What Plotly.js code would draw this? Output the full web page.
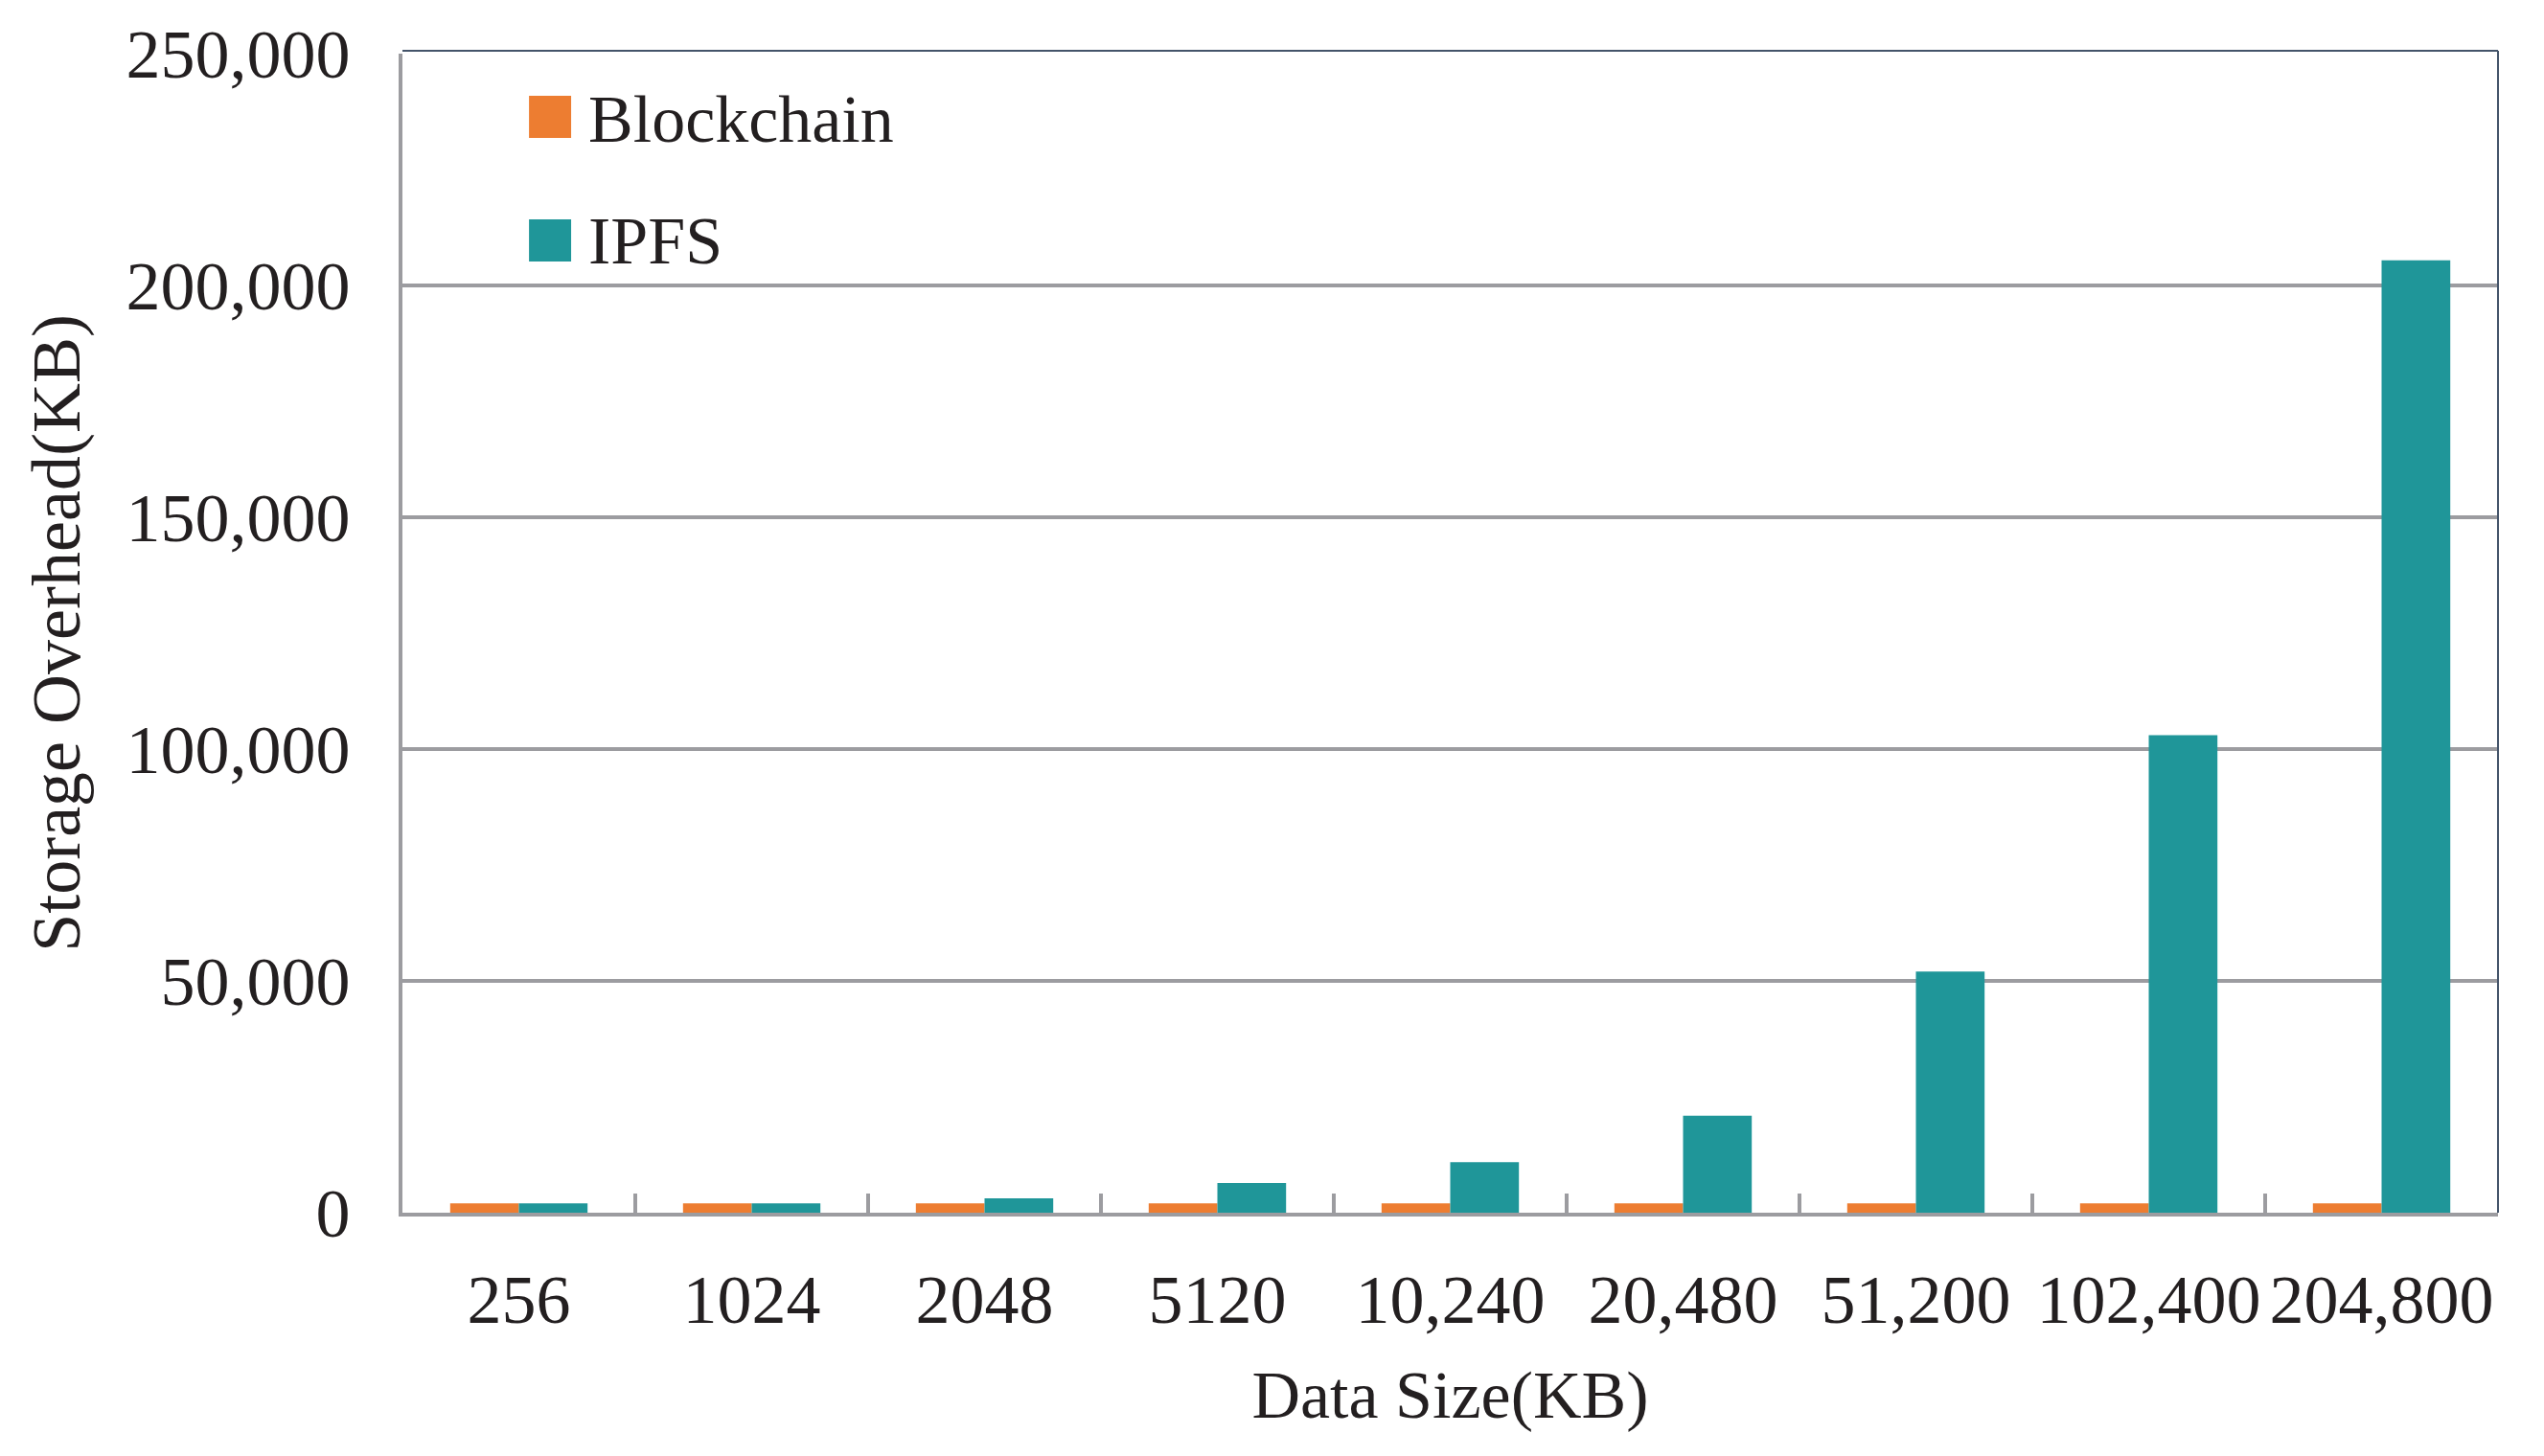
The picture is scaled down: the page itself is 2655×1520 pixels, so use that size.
<!DOCTYPE html>
<html>
<head>
<meta charset="utf-8">
<script src="https://cdn.plot.ly/plotly-3.0.1.min.js"></script>
<style>
html, body { margin: 0; padding: 0; background: #ffffff; }
#chart { width: 2655px; height: 1520px; }
</style>
</head>
<body>
<div id="chart"></div>
<script>
// ---- data ----
const categories = ["256", "1024", "2048", "5120", "10,240", "20,480", "51,200", "102,400", "204,800"];
const blockchainValues = [2000, 2000, 2000, 2000, 2000, 2000, 2000, 2000, 2000];
const ipfsValues = [2000, 2000, 3100, 6400, 10900, 20900, 52000, 103000, 205400];
const seriesNames = ["Blockchain", "IPFS"];
const seriesColors = ["#ED7D31", "#1F9699"];
const yTickValues = [0, 50000, 100000, 150000, 200000, 250000];

const FONT = "Liberation Serif, Times New Roman, serif";
const TEXT = "#231f20";
const GRID = "#9c9ca0";
const FRAME = "#44546a";

const traces = [
  { type: "bar", name: seriesNames[0], x: categories, y: blockchainValues,
    marker: { color: seriesColors[0] }, showlegend: false, hoverinfo: "skip" },
  { type: "bar", name: seriesNames[1], x: categories, y: ipfsValues,
    marker: { color: seriesColors[1] }, showlegend: false, hoverinfo: "skip" }
];

// hand-drawn legend (large swatches like the reference)
const legendShapes = [
  { type: "rect", xref: "paper", yref: "paper", x0: 0.0604, x1: 0.0805, y0: 0.9273, y1: 0.9636,
    fillcolor: seriesColors[0], line: { width: 0 } },
  { type: "rect", xref: "paper", yref: "paper", x0: 0.0604, x1: 0.0805, y0: 0.8207, y1: 0.857,
    fillcolor: seriesColors[1], line: { width: 0 } }
];
const legendTexts = [
  { xref: "paper", yref: "paper", x: 0.0878, y: 0.943, text: seriesNames[0], showarrow: false,
    xanchor: "left", yanchor: "middle", font: { family: FONT, size: 70, color: TEXT } },
  { xref: "paper", yref: "paper", x: 0.0878, y: 0.8388, text: seriesNames[1], showarrow: false,
    xanchor: "left", yanchor: "middle", font: { family: FONT, size: 70, color: TEXT } }
];

// dark frame lines on top and right of the plot area
const frameShapes = [
  { type: "line", xref: "paper", yref: "paper", x0: 0, x1: 1, y0: 1.0025, y1: 1.0025,
    line: { color: FRAME, width: 2 } },
  { type: "line", xref: "paper", yref: "paper", x0: 1, x1: 1, y0: 0, y1: 1.0025,
    line: { color: FRAME, width: 2 } }
];

const layout = {
  width: 2655, height: 1520,
  margin: { l: 420, r: 48, t: 56, b: 254 },
  paper_bgcolor: "#ffffff", plot_bgcolor: "#ffffff",
  font: { family: FONT, color: TEXT },
  barmode: "group",
  bargap: 0.41,
  bargroupgap: 0,
  showlegend: false,
  xaxis: {
    type: "category",
    tickson: "boundaries",
    ticks: "inside",
    ticklen: 20,
    tickwidth: 4,
    tickcolor: GRID,
    tickangle: 0,
    showline: true, linecolor: GRID, linewidth: 4,
    showgrid: false,
    tickfont: { family: FONT, size: 72, color: TEXT },
    ticklabelstandoff: 25,
    title: { text: "Data Size(KB)", font: { family: FONT, size: 70, color: TEXT }, standoff: 36 },
    automargin: false
  },
  yaxis: {
    range: [0, 250000],
    tickvals: yTickValues,
    tickformat: ",d",
    ticks: "",
    showline: true, linecolor: GRID, linewidth: 4,
    showgrid: true, gridcolor: GRID, gridwidth: 4,
    zeroline: false,
    tickfont: { family: FONT, size: 72, color: TEXT },
    ticklabelstandoff: 36,
    title: { text: "Storage Overhead(KB)", font: { family: FONT, size: 72, color: TEXT }, standoff: 25 },
    automargin: false
  },
  shapes: legendShapes.concat(frameShapes),
  annotations: legendTexts
};

Plotly.newPlot("chart", traces, layout, { displayModeBar: false, staticPlot: true });
</script>
</body>
</html>
